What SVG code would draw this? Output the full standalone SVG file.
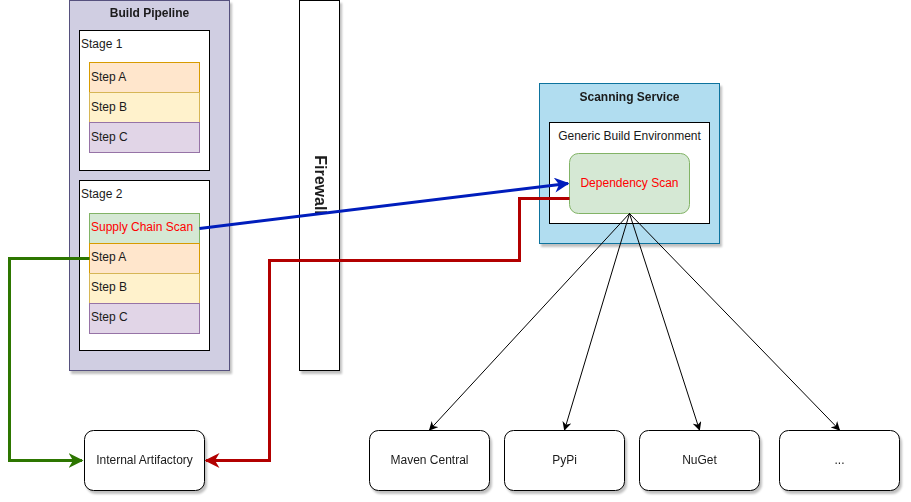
<svg xmlns="http://www.w3.org/2000/svg" width="911" height="502" viewBox="0 0 911 502">
<style>
text{font-family:"Liberation Sans",Arial,Helvetica,sans-serif;font-size:12px;fill:#1a1a1a}
.b{font-weight:bold}
.c{text-anchor:middle}
.sh{filter:url(#shadow)}
.box{fill:#fff;stroke:#000;stroke-width:1}
.sa{fill:#ffe6cc;stroke:#d79b00}
.sb{fill:#fff2cc;stroke:#d6b656}
.sc{fill:#e1d5e7;stroke:#9673a6}
.sg{fill:#d5e8d4;stroke:#82b366}
.red{fill:#ff0000}
.conn{fill:none}
</style>
<defs>
<filter id="shadow" x="-10%" y="-10%" width="130%" height="130%">
<feGaussianBlur in="SourceAlpha" stdDeviation="1.2"/>
<feOffset dx="2" dy="3" result="o"/>
<feComponentTransfer><feFuncA type="linear" slope="0.25"/></feComponentTransfer>
<feMerge><feMergeNode/><feMergeNode in="SourceGraphic"/></feMerge>
</filter>
<marker id="mb" viewBox="0 0 10 10" refX="9" refY="5" markerWidth="5" markerHeight="5" orient="auto" markerUnits="strokeWidth"><path d="M0,0 L10,5 L0,10 L3,5 Z" fill="#001DBC"/></marker>
<marker id="mg" viewBox="0 0 10 10" refX="9" refY="5" markerWidth="5" markerHeight="5" orient="auto" markerUnits="strokeWidth"><path d="M0,0 L10,5 L0,10 L3,5 Z" fill="#2D7600"/></marker>
<marker id="mr" viewBox="0 0 10 10" refX="9" refY="5" markerWidth="5" markerHeight="5" orient="auto" markerUnits="strokeWidth"><path d="M0,0 L10,5 L0,10 L3,5 Z" fill="#B20000"/></marker>
<marker id="mk" viewBox="0 0 10 10" refX="9" refY="5" markerWidth="9" markerHeight="9" orient="auto" markerUnits="userSpaceOnUse"><path d="M0,0 L10,5 L0,10 L3,5 Z" fill="#000"/></marker>
</defs>
<rect width="911" height="502" fill="#fff"/>

<g id="build-pipeline" class="sh">
<rect x="69.5" y="0.5" width="160" height="370" fill="#d0cee2" stroke="#56517e"/>
<text x="149.5" y="17" class="b c">Build Pipeline</text>
</g>
<g id="stage1">
<rect x="79.5" y="30.5" width="130" height="140" class="box"/>
<text x="81" y="48">Stage 1</text>
</g>
<g id="s1-step-a"><rect x="89.5" y="62.5" width="110" height="30" class="sa"/><text x="91" y="81">Step A</text></g>
<g id="s1-step-b"><rect x="89.5" y="92.5" width="110" height="30" class="sb"/><text x="91" y="111">Step B</text></g>
<g id="s1-step-c"><rect x="89.5" y="122.5" width="110" height="30" class="sc"/><text x="91" y="141">Step C</text></g>

<g id="stage2">
<rect x="79.5" y="180.5" width="130" height="170" class="box"/>
<text x="81" y="198">Stage 2</text>
</g>
<g id="supply-chain-scan"><rect x="89.5" y="213.5" width="110" height="30" class="sg"/><text x="91" y="231" class="red">Supply Chain Scan</text></g>
<g id="s2-step-a"><rect x="89.5" y="243.5" width="110" height="30" class="sa"/><text x="91" y="261">Step A</text></g>
<g id="s2-step-b"><rect x="89.5" y="273.5" width="110" height="30" class="sb"/><text x="91" y="291">Step B</text></g>
<g id="s2-step-c"><rect x="89.5" y="303.5" width="110" height="30" class="sc"/><text x="91" y="321">Step C</text></g>

<g id="firewall" class="sh">
<rect x="299.5" y="0.5" width="40" height="370" class="box"/>
<text transform="translate(314.5,185) rotate(90)" class="b c" style="font-size:16px">Firewall</text>
</g>

<g id="scanning-service" class="sh">
<rect x="539.5" y="83.5" width="180" height="160" fill="#b1ddf0" stroke="#10739e"/>
<text x="629.5" y="101" class="b c">Scanning Service</text>
</g>
<g id="generic-build-env">
<rect x="549.5" y="122.5" width="160" height="101" class="box"/>
<text x="629.5" y="140" class="c">Generic Build Environment</text>
</g>
<g id="dependency-scan">
<rect x="569.5" y="153.5" width="120" height="60" rx="9" class="sg"/>
<text x="629.5" y="187" class="c red">Dependency Scan</text>
</g>

<g id="internal-artifactory" class="sh">
<rect x="84.5" y="430.5" width="120" height="60" rx="9" class="box"/>
<text x="144.5" y="464" class="c">Internal Artifactory</text>
</g>
<g id="maven-central" class="sh">
<rect x="369.5" y="430.5" width="120" height="60" rx="9" class="box"/>
<text x="429.5" y="464" class="c">Maven Central</text>
</g>
<g id="pypi" class="sh">
<rect x="504.5" y="430.5" width="120" height="60" rx="9" class="box"/>
<text x="564.5" y="464" class="c">PyPi</text>
</g>
<g id="nuget" class="sh">
<rect x="639.5" y="430.5" width="120" height="60" rx="9" class="box"/>
<text x="699.5" y="464" class="c">NuGet</text>
</g>
<g id="more" class="sh">
<rect x="779.5" y="430.5" width="120" height="60" rx="9" class="box"/>
<text x="839.5" y="464" class="c">...</text>
</g>

<g id="connectors" class="conn">
<path d="M199.5,228.5 L568,183.5" stroke="#001DBC" stroke-width="3" marker-end="url(#mb)"/>
<path d="M89.5,258.5 H9.5 V460.5 H82" stroke="#2D7600" stroke-width="3" marker-end="url(#mg)"/>
<path d="M569.5,198.5 H519.5 V260.5 H269.5 V460.5 H206" stroke="#B20000" stroke-width="3" marker-end="url(#mr)"/>
<path d="M629.5,213.5 L429.5,430" stroke="#000" marker-end="url(#mk)"/>
<path d="M629.5,213.5 L564.5,430" stroke="#000" marker-end="url(#mk)"/>
<path d="M629.5,213.5 L699.5,430" stroke="#000" marker-end="url(#mk)"/>
<path d="M629.5,213.5 L839.5,430" stroke="#000" marker-end="url(#mk)"/>
</g>
</svg>
